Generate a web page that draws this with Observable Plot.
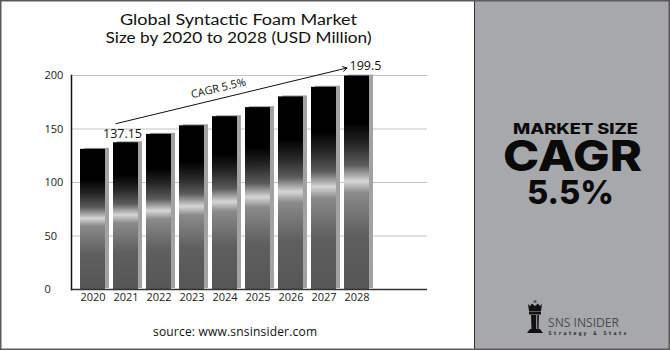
<!DOCTYPE html>
<html>
<head>
<meta charset="utf-8">
<script src="https://cdn.jsdelivr.net/npm/d3@7"></script>
<script src="https://cdn.jsdelivr.net/npm/@observablehq/plot@0.6"></script>
<style>
  html, body { margin: 0; padding: 0; background: #fff; }
  #wrap { position: relative; width: 670px; height: 350px; overflow: hidden; background: #fff; }
  #chart { position: absolute; left: 0; top: 0; }
  #overlay { position: absolute; left: 0; top: 0; pointer-events: none; }
</style>
</head>
<body>
<div id="wrap">
  <div id="chart"></div>
  <svg id="overlay" width="670" height="350" xmlns="http://www.w3.org/2000/svg">
    <rect x="474" y="0" width="196" height="350" fill="#a7a8ac"/>
    <line x1="474.5" y1="0" x2="474.5" y2="350" stroke="#333" stroke-width="1"/>
    <rect x="0.75" y="0.75" width="668.5" height="348.5" fill="none" stroke="#5a5a5a" stroke-width="1.5"/>
    <g font-family="Lato, 'Open Sans', sans-serif" fill="#111" text-anchor="middle">
      <text x="238.5" y="25" font-size="14.8" textLength="237" lengthAdjust="spacingAndGlyphs">Global Syntactic Foam Market</text>
      <text x="238.5" y="43" font-size="14.8" textLength="266" lengthAdjust="spacingAndGlyphs">Size by 2020 to 2028 (USD Million)</text>
    </g>
    <text x="235" y="336" font-family="'Open Sans', sans-serif" fill="#111" text-anchor="middle" font-size="12" textLength="164">source: www.snsinsider.com</text>
    <g font-family="Inter, 'Open Sans', sans-serif" fill="#0a0a0a" text-anchor="middle" font-weight="800">
      <text x="575.5" y="133.5" font-size="14" textLength="125" lengthAdjust="spacingAndGlyphs">MARKET SIZE</text>
      <text x="572.5" y="171" font-size="43" textLength="139" lengthAdjust="spacingAndGlyphs">CAGR</text>
      <text x="570.5" y="204" font-size="33" textLength="87" lengthAdjust="spacingAndGlyphs">5.5%</text>
    </g>
    <g id="logo">
      <circle cx="535" cy="301.5" r="1.6" fill="#555"/>
      <path d="M528,304 L530,306 L532,303.5 L535,306 L538,303.5 L540,306 L542,304 L541,311 L529,311 Z" fill="#111"/>
      <rect x="529" y="311.5" width="12" height="3" fill="#111"/>
      <path d="M531,315 L539,315 L538.5,329 L531.5,329 Z" fill="#111"/>
      <rect x="536" y="315" width="1.3" height="14" fill="#8a8a8e"/>
      <path d="M527,333 L530,329 L540,329 L543,333 Z" fill="#111"/>
      <text x="548" y="327" font-family="'Open Sans', sans-serif" font-size="13" fill="#4b4b50" textLength="71" lengthAdjust="spacingAndGlyphs">SNS INSIDER</text>
      <text x="548.5" y="335" font-family="'DejaVu Sans Mono', monospace" font-size="5" font-weight="bold" fill="#222" textLength="78" lengthAdjust="spacing">Strategy &amp; Stats</text>
    </g>
  </svg>
</div>
<script>
const years = ["2020", "2021", "2022", "2023", "2024", "2025", "2026", "2027", "2028"];
const values = [131, 137.15, 145, 153, 161.5, 170, 180, 189, 199.5];
const yTicks = [0, 50, 100, 150, 200];
const labelYears = ["2021", "2028"];
const labelValues = [137.15, 199.5];
const labelTexts = ["137.15", "199.5"];
const arrowYears = ["2021", "2028"];
const arrowValues = [155, 207];
const cagrText = "CAGR 5.5%";
const cagrYear = "2024";
const cagrValue = 188;

const bars = years.map((year, i) => ({year, value: values[i]}));
const labels = labelYears.map((year, i) => ({year, value: labelValues[i], text: labelTexts[i]}));
const arrowData = [{x1: arrowYears[0], y1: arrowValues[0], x2: arrowYears[1], y2: arrowValues[1]}];

function gradientDefs() {
  const defs = d3.create("svg:defs");
  const g = defs.append("linearGradient").attr("id", "barGrad")
    .attr("x1", 0).attr("y1", 0).attr("x2", 0).attr("y2", 1);
  [[0, "#000"], [0.22, "#000"], [0.32, "#262626"], [0.42, "#5c5c5c"], [0.495, "#d6d6d6"],
   [0.55, "#8a8a8a"], [0.75, "#5f5f5f"], [1, "#565656"]]
    .forEach(([o, c]) => g.append("stop").attr("offset", o).attr("stop-color", c));
  return defs.node();
}

const chart = Plot.plot({
  width: 474,
  height: 350,
  marginTop: 75,
  marginBottom: 61,
  marginLeft: 71,
  marginRight: 47,
  style: {background: "transparent", fontFamily: "'Open Sans', sans-serif", fontSize: "11px", color: "#222"},
  x: {type: "band", domain: years, range: [70, 379], padding: 0.25, axis: null},
  y: {domain: [0, 200], axis: null},
  marks: [
    gradientDefs,
    Plot.ruleY(yTicks.filter(d => d > 0), {stroke: "#c4c4c4", strokeWidth: 1}),
    Plot.barY(bars, {x: "year", y: "value", fill: "#a2a2a2", dx: 4, dy: -1}),
    Plot.barY(bars, {x: "year", y: "value", fill: "url(#barGrad)"}),
    Plot.ruleY([0], {stroke: "#333", strokeWidth: 1.5}),
    Plot.frame({anchor: "left", stroke: "#111", strokeWidth: 1.5}),
    Plot.axisY({ticks: yTicks, tickSize: 0, textAnchor: "start", dx: -18, label: null, fill: "#222"}),
    Plot.axisX({tickSize: 0, tickPadding: 4, label: null, fill: "#222"}),
    Plot.arrow(arrowData, {x1: "x1", y1: "y1", x2: "x2", y2: "y2", dx: -10, bend: 0,
      headLength: 7, insetStart: 0, insetEnd: 0, stroke: "#111", strokeWidth: 1}),
    Plot.text(labels.slice(0, 1), {x: "year", y: "value", text: "text", lineAnchor: "bottom", dx: -3.5, dy: -5, fontSize: 12.5, fill: "#111"}),
    Plot.text(labels.slice(1), {x: "year", y: "value", text: "text", lineAnchor: "bottom", dx: 8.5, dy: -6, fontSize: 12.5, fill: "#111"}),
    Plot.text([cagrText], {x: () => cagrYear, y: () => cagrValue, text: d => d, rotate: -13.4, dx: -6.6, fontSize: 11, fill: "#111"})
  ]
});
document.getElementById("chart").appendChild(chart);
</script>
</body>
</html>
